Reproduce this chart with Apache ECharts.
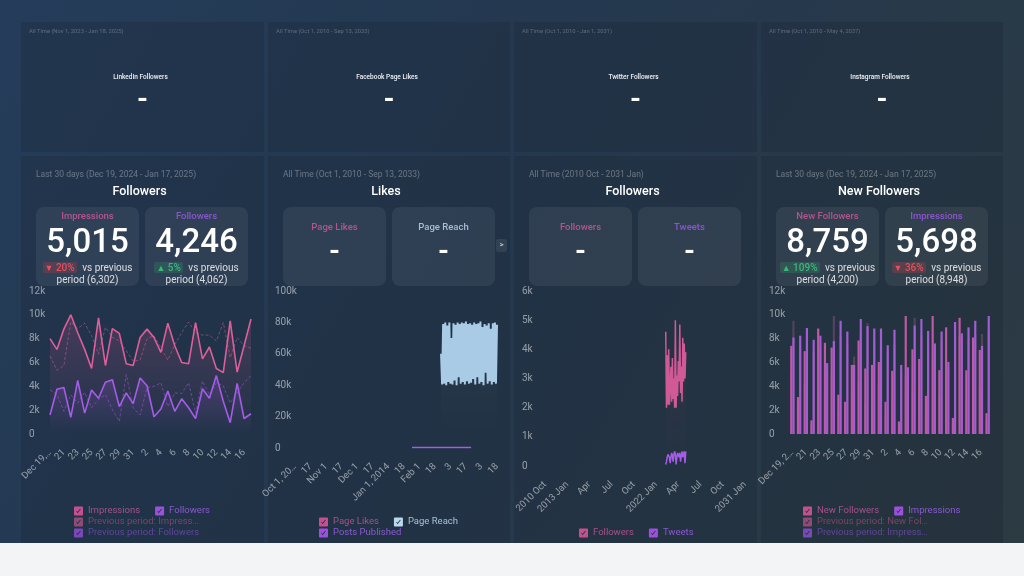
<!DOCTYPE html>
<html>
<head>
<meta charset="utf-8">
<script src="https://cdn.jsdelivr.net/npm/echarts@6/dist/echarts.min.js"></script>
<style>
html,body{margin:0;padding:0;width:1024px;height:576px;overflow:hidden;font-family:Roboto,sans-serif;background:#f2f4f6}
#page{position:absolute;left:0;top:0;width:1024px;height:543px;overflow:hidden;background:linear-gradient(120deg,#243d5a 0%,#24384f 45%,#2c3a42 100%)}
.card{position:absolute;background:rgba(24,36,52,.28);color:#fff}
.card .date{position:absolute;color:rgba(255,255,255,.32);white-space:nowrap;will-change:transform}
.top .date{left:8px;top:6px;font-size:5.8px;color:rgba(255,255,255,.26)}
.top .name{position:absolute;left:0;right:4px;top:51px;text-align:center;font-size:6.5px;font-weight:500;color:#eef2f6;will-change:transform}
.top .dash{position:absolute;left:0;right:0;top:61px;text-align:center;font-size:28px;line-height:32px;font-weight:700;will-change:transform}
.big .date{left:15px;top:13px;font-size:8.5px}
.big .title{position:absolute;left:0;right:6px;top:26.5px;text-align:center;font-size:12.5px;line-height:16px;font-weight:500;will-change:transform}
.chart{position:absolute;left:-10px;top:0;height:100%}
.tile{position:absolute;top:51px;width:103px;height:79px;border-radius:8px;background:rgba(255,255,255,.065);text-align:center;z-index:2}
.tile .lab{position:absolute;left:0;right:0;top:3px;font-size:9.5px;line-height:12px;font-weight:500;will-change:transform}
.tile.nil .lab{top:14px}
.tile .num{position:absolute;left:0;right:0;top:14px;font-size:33px;line-height:40px;font-weight:500;color:#fff;will-change:transform}
.tile.nil .num{top:25px;font-size:28px;line-height:38px;font-weight:700}
.tile .cmp{position:absolute;left:0;right:0;top:55px;font-size:10px;line-height:11px;color:rgba(255,255,255,.82);will-change:transform}
.bad{background:rgba(224,64,72,.22);color:#e2505c;font-weight:500;padding:0 2px;border-radius:2px;margin-right:3px}
.good{background:rgba(50,170,110,.22);color:#3fb57c;font-weight:500;padding:0 2px;border-radius:2px;margin-right:3px}
.bad small,.good small{font-size:9px}
#more{position:absolute;left:496px;top:239px;width:11px;height:13px;line-height:12px;text-align:center;font-size:8px;color:#dfe6ee;background:rgba(255,255,255,.08);border-radius:2px;z-index:3}
</style>
</head>
<body>
<div id="page"></div>
<script>
// top row
var topTitles = ['LinkedIn Followers', 'Facebook Page Likes', 'Twitter Followers', 'Instagram Followers'];
var topDates = ['All Time (Nov 1, 2023 - Jan 18, 2025)', 'All Time (Oct 1, 2010 - Sep 13, 2033)', 'All Time (Oct 1, 2010 - Jan 1, 2031)', 'All Time (Oct 1, 2010 - May 4, 2037)'];
var cardLefts = [21, 268, 514, 761];
var cardWidths = [243, 242, 243, 242];

// tick labels
var days30 = ['Dec 19,…','20','21','22','23','24','25','26','27','28','29','30','31','1','2','3','4','5','6','7','8','9','10','11','12','13','14','15','16','17'];
var days30b = ['Dec 19, 2…','20','21','22','23','24','25','26','27','28','29','30','31','1','2','3','4','5','6','7','8','9','10','11','12','13','14','15','16','17'];
var likesTicks = ['Oct 1, 20…','17','Nov 1','17','Dec 1','17','Jan 1, 2014','18','Feb 1','18','3','17','3','18'];
var twitterTicks = ['2010 Oct','2013 Jan','Apr','Jul','Oct','2022 Jan','Apr','Jul','Oct','2031 Jan'];

// followers card
var impressions = [8000,7100,8800,10000,8500,7100,5500,9750,5750,8850,8450,5900,5750,8100,8800,8100,6850,9300,7400,6000,5900,9350,6300,7300,5500,5150,9500,5200,7400,9650];
var followers = [1600,3750,3900,1400,4500,1750,3700,3000,4350,4550,2300,3450,2550,4700,4050,1450,2100,3600,1900,2950,2200,1300,3800,3000,4900,2750,950,4250,1300,1700];
var prevImpressions = [6550,5350,5750,9400,8850,9300,8250,6700,8950,8100,7800,7000,6100,6200,8000,8250,7250,6200,7500,8500,9400,8500,8300,8300,7800,9350,6400,8100,7400,7200];
var prevFollowers = [3700,3350,1900,3300,2600,3500,2200,2900,3300,2050,1050,5000,2200,1600,3900,4000,4300,2300,3450,3400,4300,1750,4450,3300,4300,4050,2600,3450,4300,4900];

// likes card, starts at tick positions
var reachOffset = 141;
var pageReach = [60000,40500,79000,41000,80000,40000,78000,42000,80000,41000,70000,40500,79500,43000,78500,40000,80000,45000,79000,41000,80000,42000,79500,40500,80500,42500,79000,41000,79500,41500,78500,44000,80000,40500,79000,45000,79500,41000,80500,42000,77000,40000,79000,48000,78000,41000,79500,42500,76000,40500,79500,42000,80000,41000,78500];
var postsOffset = 113;
var postsPublished = [300,300,300,300,300,300,300,300,300,300,300,300,300,300,300,300,300,300,300,300,300,300,300,300,300,300,300,300,300,300,300,300,300,300,300,300,300,300,300,300,300,300,300,300,300,300,300,300,300,300,300,300,300,300,300,300,300,300];

// twitter card
var twitterOffset = 163;
var twFollowers = [4600,2000,3800,2100,4000,2100,2700,3400,2200,3700,2300,3000,2000,5000,2000,3100,2400,3600,2900,4850,2500,3400,2200,4400,2900,4200,3000,3900];
var twTweets = [50,150,300,400,450,300,100,300,450,350,150,400,500,400,50,300,450,500,300,450,150,350,500,300,400,500,100,500];

// new followers card
var newFollowers = [7400,3100,6950,1150,8850,7650,7250,3300,2700,5800,7850,5500,5800,6050,2700,5300,1050,9900,7100,6300,3200,9900,5350,8950,1350,9750,5350,8100,7050,1750];
var impressions4 = [8100,8250,8900,7900,8250,5950,7800,9500,8600,5800,9650,9050,8850,8850,7450,8750,5800,5600,9100,9650,8650,7600,8600,6050,9400,8450,8950,9500,7400,9900];
var prevNewFollowers = [5200,2400,4100,800,6100,3300,5000,1900,2100,3500,4400,2600,3800,4200,1500,2800,700,4800,3600,3900,2000,6200,3300,4700,900,8300,3000,5100,4000,1200];
var prevImpressions4 = [9500,7200,8100,6900,7300,5400,9900,8200,7600,6500,8400,9300,7900,7700,6800,7500,5200,5100,9750,8300,7400,6900,7800,5600,8100,7600,8000,8300,8400,8600];

var pink = '#dc5f9b', purple = '#a55ce8', reachBlue = '#a9cbe6';
var checkIcon = 'path://M2,0L18,0Q20,0 20,2L20,18Q20,20 18,20L2,20Q0,20 0,18L0,2Q0,0 2,0ZM5,10L8,15L15,6L13.5,5L8,12L6.5,9.2Z';

function topCard(i) {
    var d = document.createElement('div');
    d.className = 'card top';
    d.style.cssText = 'left:' + cardLefts[i] + 'px;top:22px;width:' + cardWidths[i] + 'px;height:130px';
    d.innerHTML = '<div class="date">' + topDates[i] + '</div><div class="name">' + topTitles[i] + '</div><div class="dash">-</div>';
    document.getElementById('page').appendChild(d);
}

function tile(left, label, color, num, cmp) {
    var inner = '<div class="lab" style="color:' + color + '">' + label + '</div><div class="num">' + num + '</div>';
    if (cmp) {
        inner += '<div class="cmp">' + cmp + '</div>';
    }
    return '<div class="tile' + (cmp ? '' : ' nil') + '" style="left:' + left + 'px">' + inner + '</div>';
}

function bigCard(i, date, title, tiles) {
    var d = document.createElement('div');
    d.className = 'card big';
    d.style.cssText = 'left:' + cardLefts[i] + 'px;top:156px;width:' + cardWidths[i] + 'px;height:387px';
    // canvas starts 10px left of the card so the long rotated first label is not cut
    d.innerHTML = '<div class="chart" id="c' + i + '" style="width:' + (cardWidths[i] + 10) + 'px"></div><div class="date">' + date + '</div><div class="title">' + title + '</div>' + tiles;
    document.getElementById('page').appendChild(d);
    return echarts.init(document.getElementById('c' + i));
}

function area(color, a) {
    return {
        color: new echarts.graphic.LinearGradient(0, 0, 0, 1, [
            { offset: 0, color: color.replace('1)', a + ')') },
            { offset: 1, color: color.replace('1)', '0)') }
        ])
    };
}

function yAxis(max, step, fmt, margin) {
    return {
        type: 'value', min: 0, max: max, interval: step,
        splitLine: { show: false }, axisLine: { show: false }, axisTick: { show: false },
        axisLabel: { color: 'rgba(255,255,255,.52)', fontFamily: 'Roboto', fontSize: 10, align: 'left', margin: margin, formatter: fmt }
    };
}

function kFormat(v) {
    return v === 0 ? '0' : (v / 1000) + 'k';
}

function xAxis(cats, every, gap) {
    return {
        type: 'category', data: cats, boundaryGap: gap,
        axisLine: { show: false }, axisTick: { show: false },
        axisLabel: {
            color: 'rgba(255,255,255,.52)', fontFamily: 'Roboto', fontSize: 9.5, rotate: 45, margin: 17,
            interval: 0, hideOverlap: false,
            formatter: function (v, i) { return i % every === 0 ? v : ''; }
        }
    };
}

function legendRow(items, left, top, width) {
    var textStyle = { fontFamily: 'Roboto', fontSize: 9.5 };
    if (width) {
        textStyle.width = width;
        textStyle.overflow = 'truncate';
        textStyle.ellipsis = '…';
    }
    return {
        left: left, top: top, icon: checkIcon, itemWidth: 9, itemHeight: 9, itemGap: 15,
        selectedMode: false, padding: 0, textStyle: textStyle,
        itemStyle: { borderWidth: 0 },
        data: items.map(function (it) {
            return { name: it[0], textStyle: { color: it[1] }, icon: checkIcon, itemStyle: { color: it[2] } };
        })
    };
}

function line(name, values, color, width, dash, fill) {
    var s = {
        name: name, type: 'line', data: values, symbol: 'none', showSymbol: false,
        color: color, lineStyle: { width: width, color: color, type: dash ? [3, 2] : 'solid', opacity: dash ? 0.5 : 1 },
        itemStyle: { color: color }, animation: false, connectNulls: false
    };
    if (fill) {
        s.areaStyle = fill;
    }
    return s;
}

// builds a category list with one tick label every "step" slots
function spreadTicks(ticks, step) {
    var out = [];
    for (var i = 0; i < ticks.length; i++) {
        out.push(ticks[i]);
        if (i < ticks.length - 1) {
            for (var j = 1; j < step; j++) out.push('');
        }
    }
    return out;
}

function pad(n, values) {
    return new Array(n).fill(null).concat(values);
}

for (var t = 0; t < 4; t++) topCard(t);

var more = document.createElement('div');
more.id = 'more';
more.textContent = '>';
document.getElementById('page').appendChild(more);

// Followers
var chart1 = bigCard(0, 'Last 30 days (Dec 19, 2024 - Jan 17, 2025)', 'Followers',
    tile(15, 'Impressions', '#b4548f', '5,015', '<span class="bad"><small>▼</small> 20%</span> vs previous<br>period (6,302)') +
    tile(124, 'Followers', '#8a55cf', '4,246', '<span class="good"><small>▲</small> 5%</span> vs previous<br>period (4,062)'));
chart1.setOption({
    animation: false,
    grid: { left: 39, right: 13, top: 135, height: 143, outerBoundsMode: 'none' },
    xAxis: xAxis(days30, 2, false),
    yAxis: yAxis(12000, 2000, kFormat, 21),
    legend: [
        legendRow([['Impressions', '#a5508a', '#c4508f'], ['Followers', '#8a58d0', '#9c50dc']], 63, 350),
        legendRow([['Previous period: Impressions', '#7c4468', '#8f4a78']], 63, 361, 115),
        legendRow([['Previous period: Followers', '#5f4699', '#7a48b8']], 63, 372)
    ],
    series: [
        line('Previous period: Impressions', prevImpressions, pink, 1, true),
        line('Previous period: Followers', prevFollowers, purple, 1, true),
        line('Impressions', impressions, pink, 1.6, false, area('rgba(223,95,156,1)', 0.28)),
        line('Followers', followers, purple, 1.6, false, area('rgba(165,92,232,1)', 0.3))
    ]
});

// Likes
var chart2 = bigCard(1, 'All Time (Oct 1, 2010 - Sep 13, 2033)', 'Likes',
    tile(15, 'Page Likes', '#b4548f', '-') +
    tile(124, 'Page Reach', '#a6bfd6', '-'));
chart2.setOption({
    animation: false,
    grid: { left: 37, right: 13, top: 135, height: 157, outerBoundsMode: 'none' },
    xAxis: xAxis(spreadTicks(likesTicks, 15), 15, false),
    yAxis: yAxis(100000, 20000, kFormat, 20),
    legend: [
        legendRow([['Page Likes', '#a5508a', '#c4508f'], ['Page Reach', '#a9c0d6', '#bcd8ee']], 61, 361),
        legendRow([['Posts Published', '#8a58d0', '#9c50dc']], 61, 372)
    ],
    series: [
        line('Page Likes', [], pink, 1.5),
        line('Page Reach', pad(reachOffset, pageReach), reachBlue, 2, false, area('rgba(255,255,255,1)', 0.05)),
        line('Posts Published', pad(postsOffset, postsPublished), purple, 1.5)
    ]
});

// Twitter followers
var chart3 = bigCard(2, 'All Time (2010 Oct - 2031 Jan)', 'Followers',
    tile(15, 'Followers', '#b4548f', '-') +
    tile(124, 'Tweets', '#8a55cf', '-'));
chart3.setOption({
    animation: false,
    grid: { left: 41, right: 12, top: 135, height: 175, outerBoundsMode: 'none' },
    xAxis: xAxis(spreadTicks(twitterTicks, 30), 30, false),
    yAxis: yAxis(6000, 1000, kFormat, 23),
    legend: [
        legendRow([['Followers', '#a5508a', '#c4508f'], ['Tweets', '#8a58d0', '#9c50dc']], 75, 372)
    ],
    series: [
        line('Followers', pad(twitterOffset, twFollowers), '#cf5a96', 1.5, false, area('rgba(223,95,156,1)', 0.12)),
        line('Tweets', pad(twitterOffset, twTweets), purple, 1.5)
    ]
});

// New followers
var chart4 = bigCard(3, 'Last 30 days (Dec 19, 2024 - Jan 17, 2025)', 'New Followers',
    tile(15, 'New Followers', '#b4548f', '8,759', '<span class="good"><small>▲</small> 109%</span> vs previous<br>period (4,200)') +
    tile(124, 'Impressions', '#8a55cf', '5,698', '<span class="bad"><small>▼</small> 36%</span> vs previous<br>period (8,948)'));
chart4.setOption({
    animation: false,
    grid: { left: 38, right: 12, top: 135, height: 143, outerBoundsMode: 'none' },
    xAxis: [
        xAxis(days30b, 2, true),
        { type: 'category', data: days30b, show: false }
    ],
    yAxis: yAxis(12000, 2000, kFormat, 20),
    legend: [
        legendRow([['New Followers', '#a5508a', '#c4508f'], ['Impressions', '#8a58d0', '#9c50dc']], 52, 350),
        legendRow([['Previous period: New Followers', '#7c4468', '#8f4a78']], 52, 361, 113),
        legendRow([['Previous period: Impressions', '#5f4699', '#7a48b8']], 52, 372, 113)
    ],
    series: [
        { name: 'Previous period: New Followers', type: 'bar', xAxisIndex: 1, data: prevNewFollowers, barWidth: 2.2, barGap: '0%', itemStyle: { color: '#5a4356' } },
        { name: 'Previous period: Impressions', type: 'bar', xAxisIndex: 1, data: prevImpressions4, barWidth: 2.2, itemStyle: { color: '#54425e' } },
        { name: 'New Followers', type: 'bar', data: newFollowers, barWidth: 2.2, barGap: '0%', z: 3, itemStyle: { color: '#bf58a5' } },
        { name: 'Impressions', type: 'bar', data: impressions4, barWidth: 2.2, z: 3, itemStyle: { color: '#a35cd6' } }
    ]
});
</script>
</body>
</html>
